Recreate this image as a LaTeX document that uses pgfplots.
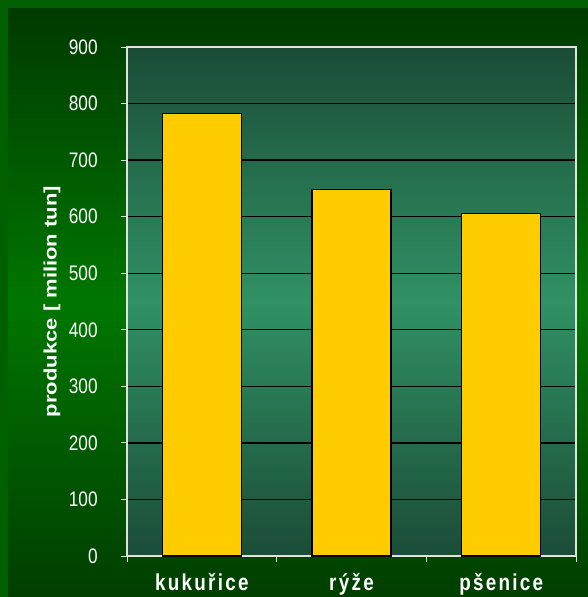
\documentclass[border=0pt]{standalone}
\usepackage{pgfplots}
\pgfplotsset{compat=1.18}
\usepackage{fontspec}
\setmainfont{Liberation Sans}
\definecolor{outerG}{RGB}{0,96,0}
\definecolor{panelTop}{RGB}{0,58,0}
\definecolor{panelMid}{RGB}{0,118,0}
\definecolor{panelBot}{RGB}{0,62,0}
\definecolor{plotEdge}{RGB}{27,76,55}
\definecolor{plotMid}{RGB}{48,145,100}
\definecolor{barY}{RGB}{255,204,0}
\definecolor{frameW}{RGB}{225,225,225}
\begin{document}
\begin{tikzpicture}
\useasboundingbox (0bp,0bp) rectangle (588bp,-597bp);
\fill[outerG] (0bp,0bp) rectangle (588bp,-597bp);
\shade[top color=panelTop, bottom color=panelBot, middle color=panelMid] (8bp,-8bp) rectangle (588bp,-597bp);
\begin{axis}[
  at={(127bp,-556bp)}, anchor=south west,
  scale only axis, width=449bp, height=509bp,
  xmin=0.5, xmax=3.5, ymin=0, ymax=900,
  ytick={0,100,...,900},
  xtick={1,2,3},
  xticklabels={kukuřice,rýže,pšenice},
  minor xtick={0.5,1.5,2.5,3.5},
  xtick pos=bottom, ytick pos=left,
  tick align=outside,
  major tick length=6bp,
  minor tick length=6bp,
  major x tick style={draw=none},
  minor x tick style={draw=frameW, line width=1bp},
  ytick style={draw=frameW, line width=1bp},
  ymajorgrids,
  grid style={black, line width=1.3bp},
  axis line style={draw=frameW, line width=1.5bp},
  axis background/.style={shade, top color=plotEdge, bottom color=plotEdge, middle color=plotMid},
  /pgf/number format/assume math mode=true,
  yticklabel style={white, font=\fontsize{21bp}{22bp}\selectfont, xscale=0.82, xshift=-25bp},
  xticklabel style={white, font=\fontsize{23bp}{24bp}\selectfont\bfseries\addfontfeature{LetterSpace=12}, xscale=0.82, yshift=-8bp},
  ylabel={\scalebox{1}[0.82]{produkce [ milion tun]}},
  every axis y label/.style={at={(axis description cs:0,0.5)}, rotate=90, anchor=center, yshift=75bp, white, font=\fontsize{22bp}{24bp}\selectfont\bfseries},
  ybar, bar width=79bp,
]
\addplot[fill=barY, draw=black, line width=1.5bp] coordinates {(1,782) (2,648) (3,606)};
\end{axis}
\end{tikzpicture}
\end{document}
